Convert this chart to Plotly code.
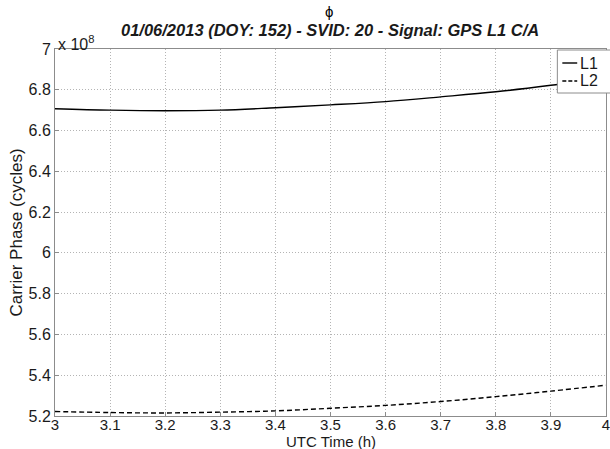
import plotly.graph_objects as go

# UTC time (h)
utc_time = [3.0, 3.1, 3.2, 3.3, 3.4, 3.5, 3.6, 3.7, 3.8, 3.9, 4.0]
# carrier phase in units of 1e8 cycles
l1_phase = [6.707, 6.700, 6.697, 6.700, 6.712, 6.726, 6.742, 6.765, 6.790, 6.822, 6.858]
l2_phase = [5.222, 5.217, 5.215, 5.219, 5.225, 5.238, 5.252, 5.271, 5.295, 5.322, 5.351]
series_names = ["L1", "L2"]
x_ticks = [3.0, 3.1, 3.2, 3.3, 3.4, 3.5, 3.6, 3.7, 3.8, 3.9, 4.0]
x_tick_text = ["3", "3.1", "3.2", "3.3", "3.4", "3.5", "3.6", "3.7", "3.8", "3.9", "4"]
y_ticks = [5.2, 5.4, 5.6, 5.8, 6.0, 6.2, 6.4, 6.6, 6.8, 7.0]
y_tick_text = ["5.2", "5.4", "5.6", "5.8", "6", "6.2", "6.4", "6.6", "6.8", "7"]

FONT = "Liberation Sans, Arial, sans-serif"
W, H = 610, 449
ML, MR, MT, MB = 55, 0, 49, 33
PW, PH = W - ML - MR, H - MT - MB

def px(x):
    return (x - ML) / PW

def py(y):
    return (H - MB - y) / PH

fig = go.Figure()
fig.add_trace(go.Scatter(x=utc_time, y=l1_phase, mode="lines", name=series_names[0],
                         line=dict(color="black", width=1.4, shape="spline")))
fig.add_trace(go.Scatter(x=utc_time, y=l2_phase, mode="lines", name=series_names[1],
                         line=dict(color="black", width=1.4, dash="5px,3px", shape="spline")))

axis_common = dict(showline=True, mirror=True, linecolor="#8c8c8c", linewidth=1,
                   showgrid=True, gridcolor="#b4b4b4", griddash="1px,2px", gridwidth=1,
                   ticks="inside", ticklen=4, tickcolor="#8c8c8c",
                   ticklabeloverflow="allow", zeroline=False)

fig.update_xaxes(range=[3, 4], tickvals=x_ticks, ticktext=x_tick_text,
                 tickfont=dict(family=FONT, size=15, color="#1a1a1a"), ticklabelstandoff=-5,
                 **axis_common)
fig.update_yaxes(range=[5.2, 7], tickvals=y_ticks, ticktext=y_tick_text,
                 tickfont=dict(family=FONT, size=16, color="#1a1a1a"),
                 title=dict(text="Carrier Phase (cycles)", font=dict(family=FONT, size=17, color="#1a1a1a"), standoff=1),
                 **axis_common)

annotations = [
    dict(text="ϕ", x=px(331), y=py(12), xref="paper", yref="paper", showarrow=False,
         font=dict(family=FONT, size=15, color="black"), xanchor="center", yanchor="middle"),
    dict(text="<b><i>01/06/2013 (DOY: 152) - SVID: 20 - Signal: GPS L1 C/A</i></b>",
         x=px(332), y=py(30), xref="paper", yref="paper", showarrow=False,
         font=dict(family=FONT, size=16.5, color="#1a1a1a"), xanchor="center", yanchor="middle"),
    dict(text="x 10<sup>8</sup>", x=px(56), y=py(43), xref="paper", yref="paper", showarrow=False,
         font=dict(family=FONT, size=16, color="#1a1a1a"), xanchor="left", yanchor="middle"),
    dict(text="UTC Time (h)", x=px(333), y=py(441.5), xref="paper", yref="paper", showarrow=False,
         font=dict(family=FONT, size=15, color="#1a1a1a"), xanchor="center", yanchor="middle"),
    dict(text=series_names[0], x=px(582), y=py(63), xref="paper", yref="paper", showarrow=False,
         font=dict(family=FONT, size=16, color="#1a1a1a"), xanchor="left", yanchor="middle"),
    dict(text=series_names[1], x=px(582), y=py(81), xref="paper", yref="paper", showarrow=False,
         font=dict(family=FONT, size=16, color="#1a1a1a"), xanchor="left", yanchor="middle"),
]

shapes = [
    dict(type="rect", xref="paper", yref="paper", x0=px(561), x1=px(615), y0=py(93), y1=py(50),
         fillcolor="white", line=dict(color="#8c8c8c", width=1), layer="above"),
    dict(type="line", xref="paper", yref="paper", x0=px(566), x1=px(581), y0=py(63), y1=py(63),
         line=dict(color="black", width=1.4), layer="above"),
    dict(type="line", xref="paper", yref="paper", x0=px(566), x1=px(581), y0=py(81), y1=py(81),
         line=dict(color="black", width=1.4, dash="4px,2px"), layer="above"),
]

fig.update_layout(width=W, height=H, margin=dict(l=ML, r=MR, t=MT, b=MB),
                  plot_bgcolor="white", paper_bgcolor="white", showlegend=False,
                  annotations=annotations, shapes=shapes,
                  font=dict(family=FONT))

fig.write_html("out.html")
